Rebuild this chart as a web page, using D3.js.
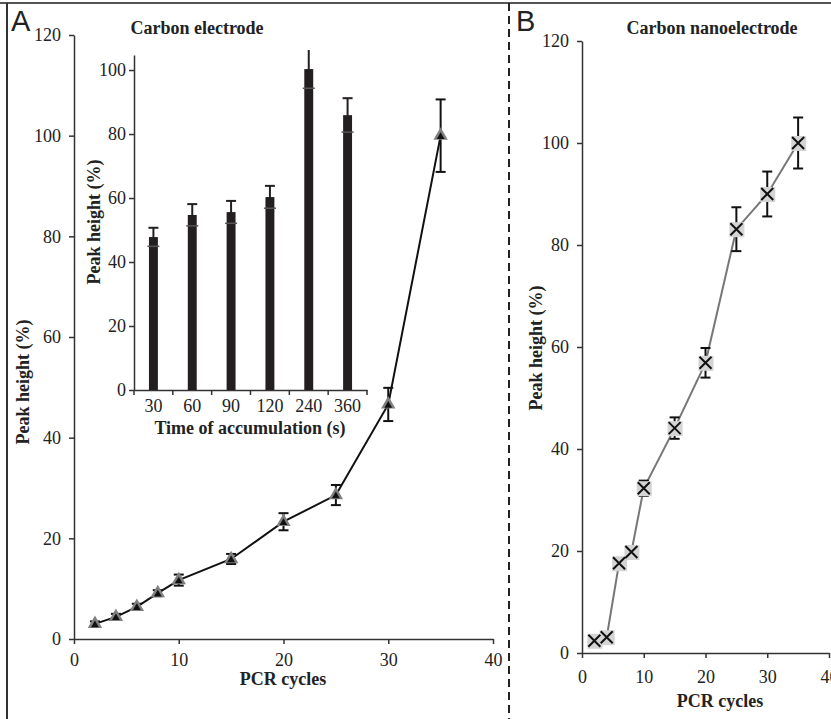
<!DOCTYPE html>
<html>
<head>
<meta charset="utf-8">
<script src="https://cdn.jsdelivr.net/npm/d3@7"></script>
<style>
  body { margin: 0; background: #fff; }
  text { font-family: "Liberation Serif", "Times New Roman", serif; fill: #222; }
  .domain, .tick line { stroke: #333; stroke-width: 1.5px; }
</style>
</head>
<body>
<div id="chart"></div>
<script>
// Panel A: carbon electrode, peak height vs PCR cycles
const cyclesA = [2, 4, 6, 8, 10, 15, 20, 25, 30, 35];
const peakA   = [3.0, 4.4, 6.4, 9.1, 11.7, 15.9, 23.3, 28.6, 46.6, 100.0];
const errA    = [0.5, 0.6, 0.6, 0.6, 1.1, 1.0, 1.7, 2.0, 3.3, 7.2];

// inset: accumulation time bars
const accTimes = ["30", "60", "90", "120", "240", "360"];
const accPeak  = [47.8, 54.7, 55.6, 60.3, 100.3, 85.9];
const accErr   = [2.9, 3.4, 3.5, 3.5, 6.0, 5.3];

// Panel B: carbon nanoelectrode
const cyclesB = [2, 4, 6, 8, 10, 15, 20, 25, 30, 35];
const peakB   = [2.4, 3.1, 17.6, 19.8, 32.3, 44.1, 56.9, 83.1, 90.0, 100.0];
const errB    = [0.3, 0.3, 0.4, 0.5, 1.5, 2.1, 2.9, 4.3, 4.4, 5.0];

const yTicksMain = [0, 20, 40, 60, 80, 100, 120];
const xTicksMain = [0, 10, 20, 30, 40];
const yTicksInset = [0, 20, 40, 60, 80, 100];

const width = 831;
const height = 719;
const fs = "18px";

const svg = d3.select("#chart")
  .append("svg")
  .attr("width", width)
  .attr("height", height);

// frame: top rule, left rule, dashed divider
svg.append("line").attr("x1", 0).attr("x2", width).attr("y1", 3).attr("y2", 3)
  .attr("stroke", "#555").attr("stroke-width", 2);
svg.append("line").attr("x1", 7).attr("x2", 7).attr("y1", 3).attr("y2", height)
  .attr("stroke", "#333").attr("stroke-width", 2);
svg.append("line").attr("x1", 509).attr("x2", 509).attr("y1", 3).attr("y2", height)
  .attr("stroke", "#222").attr("stroke-width", 2).attr("stroke-dasharray", "8,5");

// panel letters
svg.append("text").attr("x", 11).attr("y", 31).text("A")
  .style("font-family", "Liberation Sans, Arial, sans-serif").style("font-size", "29px");
svg.append("text").attr("x", 516).attr("y", 31).text("B")
  .style("font-family", "Liberation Sans, Arial, sans-serif").style("font-size", "29px");

/*
  Panel A
*/
let xA = d3.scaleLinear().domain([0, 40]).range([74, 493]);
let yA = d3.scaleLinear().domain([0, 120]).range([639, 35]);

svg.append("g")
  .attr("transform", "translate(74,0)")
  .call(d3.axisLeft(yA).tickValues(yTicksMain).tickSize(5).tickSizeOuter(0).tickPadding(8))
  .attr("font-size", fs);

svg.append("g")
  .attr("transform", "translate(0,639)")
  .call(d3.axisBottom(xA).tickValues(xTicksMain).tickSize(5).tickSizeOuter(0).tickPadding(9))
  .attr("font-size", fs);

svg.append("text").attr("x", 283).attr("y", 685).attr("text-anchor", "middle")
  .style("font-weight", "bold").style("font-size", fs).text("PCR cycles");
svg.append("text").attr("transform", "translate(29,382) rotate(-90)").attr("text-anchor", "middle")
  .style("font-weight", "bold").style("font-size", fs).text("Peak height (%)");
svg.append("text").attr("x", 197).attr("y", 34).attr("text-anchor", "middle")
  .style("font-weight", "bold").style("font-size", fs).text("Carbon electrode");

const dataA = cyclesA.map((c, i) => ({x: c, y: peakA[i], e: errA[i]}));

svg.append("path")
  .datum(dataA)
  .attr("fill", "none")
  .attr("stroke", "#111")
  .attr("stroke-width", 2)
  .attr("d", d3.line().x(d => xA(d.x)).y(d => yA(d.y)));

const errGA = svg.append("g").attr("stroke", "#111").attr("stroke-width", 2);
dataA.forEach(d => {
  const cx = xA(d.x);
  errGA.append("line").attr("x1", cx).attr("x2", cx).attr("y1", yA(d.y - d.e)).attr("y2", yA(d.y + d.e));
  errGA.append("line").attr("x1", cx - 5).attr("x2", cx + 5).attr("y1", yA(d.y + d.e)).attr("y2", yA(d.y + d.e));
  errGA.append("line").attr("x1", cx - 5).attr("x2", cx + 5).attr("y1", yA(d.y - d.e)).attr("y2", yA(d.y - d.e));
});

svg.selectAll(".triOuter")
  .data(dataA)
  .enter()
  .append("path")
    .attr("class", "triOuter")
    .attr("transform", d => `translate(${xA(d.x)},${yA(d.y)})`)
    .attr("d", d3.symbol(d3.symbolTriangle, 90))
    .attr("fill", "#808080");
svg.selectAll(".triInner")
  .data(dataA)
  .enter()
  .append("path")
    .attr("class", "triInner")
    .attr("transform", d => `translate(${xA(d.x)},${yA(d.y) + 1})`)
    .attr("d", d3.symbol(d3.symbolTriangle, 26))
    .attr("fill", "#111");

/*
  Inset bars
*/
let xIn = d3.scaleBand().domain(accTimes).range([134, 367]).paddingInner(0.77).paddingOuter(0.385);
let yIn = d3.scaleLinear().domain([0, 104.7]).range([390, 55]);

svg.append("g")
  .attr("transform", "translate(134,0)")
  .call(d3.axisLeft(yIn).tickValues(yTicksInset).tickSize(5).tickSizeOuter(0).tickPadding(3))
  .attr("font-size", fs);

const inX = svg.append("g")
  .attr("transform", "translate(0,390)")
  .call(d3.axisBottom(xIn).tickSize(0).tickPadding(9))
  .attr("font-size", fs);
// ticks sit at the band boundaries
const step = xIn.step();
d3.range(accTimes.length + 1).forEach(i => {
  const tx = 134 + i * step;
  inX.append("line").attr("x1", tx).attr("x2", tx).attr("y1", 0).attr("y2", 5)
    .attr("stroke", "#333").attr("stroke-width", 1.5);
});

svg.append("text").attr("x", 250).attr("y", 434).attr("text-anchor", "middle")
  .style("font-weight", "bold").style("font-size", fs).text("Time of accumulation (s)");
svg.append("text").attr("transform", "translate(100,222) rotate(-90)").attr("text-anchor", "middle")
  .style("font-weight", "bold").style("font-size", fs).text("Peak height (%)");

const dataIn = accTimes.map((t, i) => ({t: t, y: accPeak[i], e: accErr[i]}));

svg.selectAll(".bar")
  .data(dataIn)
  .enter()
  .append("rect")
    .attr("class", "bar")
    .attr("x", d => xIn(d.t))
    .attr("y", d => yIn(d.y))
    .attr("width", xIn.bandwidth())
    .attr("height", d => 390 - yIn(d.y))
    .attr("fill", "#231f20");

const errGIn = svg.append("g").attr("stroke", "#231f20").attr("stroke-width", 2);
dataIn.forEach(d => {
  const cx = xIn(d.t) + xIn.bandwidth() / 2;
  const top = Math.max(yIn(d.y + d.e), 50);
  errGIn.append("line").attr("x1", cx).attr("x2", cx).attr("y1", yIn(d.y - d.e)).attr("y2", top);
  if (yIn(d.y + d.e) > 50) {
    errGIn.append("line").attr("x1", cx - 5).attr("x2", cx + 5).attr("y1", top).attr("y2", top);
  }
  errGIn.append("line").attr("x1", cx - 6).attr("x2", cx + 6).attr("y1", yIn(d.y - d.e)).attr("y2", yIn(d.y - d.e))
    .attr("stroke", "#555").attr("stroke-width", 1.5);
});

/*
  Panel B
*/
let xB = d3.scaleLinear().domain([0, 40]).range([582, 829]);
let yB = d3.scaleLinear().domain([0, 120]).range([653, 41]);

svg.append("g")
  .attr("transform", "translate(582,0)")
  .call(d3.axisLeft(yB).tickValues(yTicksMain).tickSize(5).tickSizeOuter(0).tickPadding(8))
  .attr("font-size", fs);

svg.append("g")
  .attr("transform", "translate(0,653)")
  .call(d3.axisBottom(xB).tickValues(xTicksMain).tickSize(5).tickSizeOuter(0).tickPadding(12))
  .attr("font-size", fs);

svg.append("text").attr("x", 720).attr("y", 707).attr("text-anchor", "middle")
  .style("font-weight", "bold").style("font-size", fs).text("PCR cycles");
svg.append("text").attr("transform", "translate(542,348) rotate(-90)").attr("text-anchor", "middle")
  .style("font-weight", "bold").style("font-size", fs).text("Peak height (%)");
svg.append("text").attr("x", 712).attr("y", 34).attr("text-anchor", "middle")
  .style("font-weight", "bold").style("font-size", fs).text("Carbon nanoelectrode");

const dataB = cyclesB.map((c, i) => ({x: c, y: peakB[i], e: errB[i]}));

svg.append("path")
  .datum(dataB)
  .attr("fill", "none")
  .attr("stroke", "#777")
  .attr("stroke-width", 2)
  .attr("d", d3.line().x(d => xB(d.x)).y(d => yB(d.y)));

const errGB = svg.append("g").attr("stroke", "#111").attr("stroke-width", 2);
dataB.forEach(d => {
  const cx = xB(d.x);
  errGB.append("line").attr("x1", cx).attr("x2", cx).attr("y1", yB(d.y - d.e)).attr("y2", yB(d.y + d.e));
  errGB.append("line").attr("x1", cx - 5).attr("x2", cx + 5).attr("y1", yB(d.y + d.e)).attr("y2", yB(d.y + d.e));
  errGB.append("line").attr("x1", cx - 5).attr("x2", cx + 5).attr("y1", yB(d.y - d.e)).attr("y2", yB(d.y - d.e));
});

svg.selectAll(".sq")
  .data(dataB)
  .enter()
  .append("rect")
    .attr("class", "sq")
    .attr("x", d => xB(d.x) - 7)
    .attr("y", d => yB(d.y) - 7)
    .attr("width", 15)
    .attr("height", 15)
    .attr("fill", "#d4d4d4");

svg.selectAll(".cross")
  .data(dataB)
  .enter()
  .append("path")
    .attr("class", "cross")
    .attr("transform", d => `translate(${xB(d.x)},${yB(d.y)})`)
    .attr("d", "M-6,-6L6,6M6,-6L-6,6")
    .attr("stroke", "#111")
    .attr("stroke-width", 2)
    .attr("fill", "none");
</script>
</body>
</html>
